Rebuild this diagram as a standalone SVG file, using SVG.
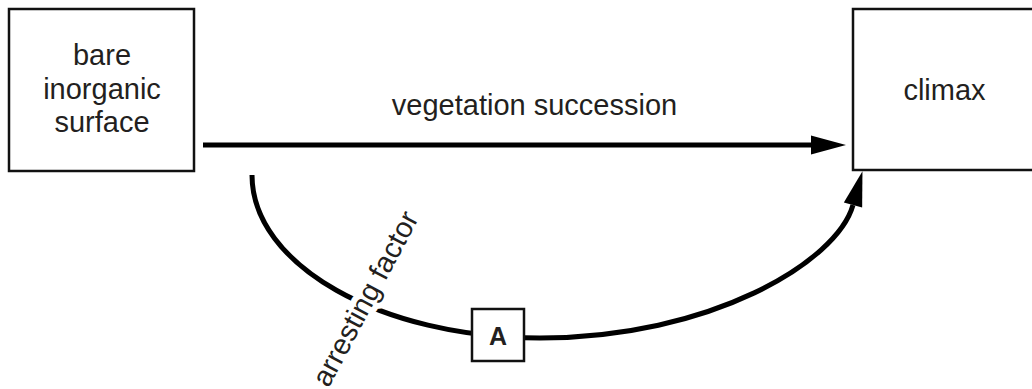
<svg xmlns="http://www.w3.org/2000/svg" width="1032" height="389" viewBox="0 0 1032 389">
  <style>
    .box { fill: #fff; stroke: #111; stroke-width: 2.5; }
    .lbl { font-family: "Liberation Sans", Arial, sans-serif; font-size: 29px; fill: #231f20; text-anchor: middle; }
    .conn { fill: none; stroke: #000; stroke-width: 5; }
    .halo { paint-order: stroke; stroke: #fff; stroke-width: 12; stroke-linejoin: round; }
  </style>
  <defs>
    <marker id="arrow" markerUnits="userSpaceOnUse" markerWidth="36" markerHeight="20" refX="0" refY="9.5" orient="auto" overflow="visible">
      <path d="M0,0 L35,9.5 L0,19 z" fill="#000"/>
    </marker>
  </defs>

  <g id="connectors">
    <path id="edge-succession" class="conn" d="M203,145 L811,145" marker-end="url(#arrow)"/>
    <path id="edge-arresting" class="conn" d="M252,175 C252,265 381,338 540,338 C710,338 837,262 853,205" marker-end="url(#arrow)"/>
  </g>

  <g id="node-bare">
    <rect class="box" x="9" y="9" width="185" height="162"/>
    <text class="lbl" x="102" y="65">bare</text>
    <text class="lbl" x="102" y="99">inorganic</text>
    <text class="lbl" x="102" y="132">surface</text>
  </g>

  <g id="node-climax">
    <rect class="box" x="853" y="9" width="200" height="161"/>
    <text class="lbl" x="944.5" y="100">climax</text>
  </g>

  <g id="label-succession">
    <text class="lbl" x="534.5" y="115">vegetation succession</text>
  </g>

  <g id="label-arresting">
    <text class="lbl halo" transform="translate(366,299) rotate(-62)" x="0" y="9">arresting factor</text>
  </g>

  <g id="node-A">
    <rect class="box" x="472" y="309" width="52" height="52"/>
    <text class="lbl" x="498" y="345" style="font-weight:bold;font-size:25px">A</text>
  </g>
</svg>
